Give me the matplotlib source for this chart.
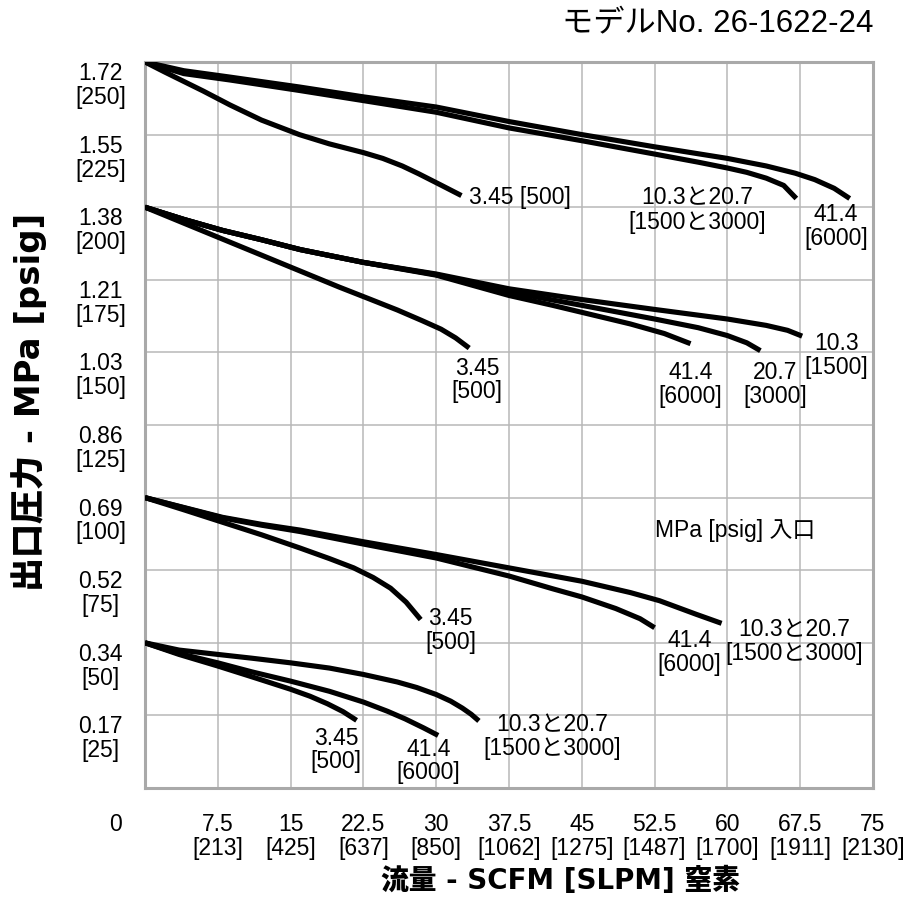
import numpy as np
import matplotlib
matplotlib.use('Agg')
import matplotlib.pyplot as plt
from matplotlib.transforms import ScaledTranslation

plt.rcParams['font.family'] = ['Liberation Sans', 'Noto Sans CJK JP', 'DejaVu Sans']

# ---- data: flow [SCFM] vs outlet pressure [psig] ----
# outlet set 250 psig
f250_345 = [0, 2, 4, 6, 8.76, 12, 15.9, 19, 22.5, 24.5, 26.5, 28.2, 30.5, 32.6]
p250_345 = [250, 246.6, 243.3, 240, 235.2, 230, 225, 221.8, 218.8, 216.8, 214.2, 211.5, 207.6, 204]
f250_103 = [0, 4, 8.76, 15.9, 22.5, 30, 37.5, 45, 52.5, 57, 60, 62, 64, 65.8, 67.1]
p250_103 = [250, 246, 243.8, 240.2, 236.7, 232.7, 227.3, 222.9, 218.3, 215.5, 213.5, 212, 210, 207.5, 203]
f250_414 = [0, 4, 8.76, 15.9, 22.5, 30, 37.5, 45, 52.5, 60, 64, 67, 69, 71, 72.6]
p250_414 = [250, 247, 244.8, 241.4, 238, 234.5, 229.5, 225, 220.8, 216.8, 214.2, 211.7, 209.5, 206.5, 203]

# outlet set 200 psig
f200_345 = [0, 4, 8, 12, 16, 20, 23.2, 26, 28.5, 30.5, 32, 33.4]
p200_345 = [200, 194.5, 189, 183.5, 178, 172.5, 168.3, 164.6, 161, 158, 155, 151.5]
f200_414 = [0, 4, 8, 12, 16, 22.5, 30, 37.5, 42, 46, 50, 53.5, 56.2]
p200_414 = [200, 195.8, 192, 188.8, 185.4, 181, 176.6, 169.6, 166.2, 163, 159.8, 156.5, 153]
f200_207 = [0, 4, 8, 12, 16, 22.5, 30, 37.5, 45, 52.5, 57, 60, 62, 63.4]
p200_207 = [200, 195.8, 192, 188.8, 185.4, 181, 176.8, 170.8, 166.2, 161.5, 158.5, 155.8, 153.3, 150.6]
f200_103 = [0, 4, 8, 12, 16, 22.5, 30, 37.5, 45, 52.5, 60, 64, 66.2, 67.7]
p200_103 = [200, 195.8, 192, 188.8, 185.4, 181, 177, 171.9, 168.2, 164.8, 161.5, 159.3, 157.6, 155.6]

# outlet set 100 psig
f100_345 = [0, 4, 8, 12, 16, 19, 21.5, 23.5, 25.3, 26.9, 28.4]
p100_345 = [100, 95.8, 91.5, 87.2, 82.6, 79, 75.8, 72.5, 68.8, 64, 58]
f100_414 = [0, 4, 8, 12, 16, 22.5, 30, 37.5, 42, 45, 48.5, 51, 52.5]
p100_414 = [100, 96.5, 93, 90.5, 88.3, 84, 79.2, 73, 68.6, 65.8, 61.8, 58.3, 55.2]
f100_103 = [0, 4, 8, 12, 16, 22.5, 30, 37.5, 45, 50, 53, 56.8, 59.4]
p100_103 = [100, 96.6, 93.2, 90.8, 88.8, 84.8, 80.4, 75.8, 71.2, 67.3, 64.5, 59.8, 56.7]

# outlet set 50 psig
f50_345 = [0, 3.5, 7.5, 11, 15, 17, 18.8, 20.4, 21.8]
p50_345 = [50, 46, 42, 38.3, 34, 31.6, 29, 26.3, 23.3]
f50_414 = [0, 3.5, 7.5, 11, 15, 19, 22.5, 25, 26.8, 28.7, 30.2]
p50_414 = [50, 46.3, 43.1, 40, 36.8, 33.3, 29.6, 26.4, 23.8, 20.7, 18.1]
f50_103 = [0, 3.5, 7.5, 11, 15, 19, 22.5, 26, 28, 30, 31.5, 32.7, 33.6, 34.4]
p50_103 = [50, 47.5, 46, 44.7, 43.1, 41.3, 39.1, 36.5, 34.6, 32.2, 29.9, 27.5, 25.4, 23.1]

curves = [
    (f250_345, p250_345), (f250_103, p250_103), (f250_414, p250_414),
    (f200_345, p200_345), (f200_414, p200_414), (f200_207, p200_207), (f200_103, p200_103),
    (f100_345, p100_345), (f100_414, p100_414), (f100_103, p100_103),
    (f50_345, p50_345), (f50_414, p50_414), (f50_103, p50_103),
]

# axis ticks
x_ticks = [0, 7.5, 15, 22.5, 30, 37.5, 45, 52.5, 60, 67.5, 75]
x_slpm = ['', '213', '425', '637', '850', '1062', '1275', '1487', '1700', '1911', '2130']
y_psig = [0, 25, 50, 75, 100, 125, 150, 175, 200, 225, 250]
y_mpa = ['', '0.17', '0.34', '0.52', '0.69', '0.86', '1.03', '1.21', '1.38', '1.55', '1.72']

# curve labels (text, flow, psig, alignment)
labels = [
    ('3.45 [500]', 33.4, 203.2, 'left'),
    ('10.3と20.7\n[1500と3000]', 56.9, 199.0, 'center'),
    ('41.4\n[6000]', 71.2, 193.2, 'center'),
    ('3.45\n[500]', 34.2, 140.5, 'center'),
    ('41.4\n[6000]', 56.2, 139.1, 'center'),
    ('20.7\n[3000]', 64.9, 139.1, 'center'),
    ('10.3\n[1500]', 71.2, 148.8, 'center'),
    ('MPa [psig] 入口', 60.8, 88.5, 'center'),
    ('3.45\n[500]', 31.5, 54.1, 'center'),
    ('41.4\n[6000]', 56.1, 46.8, 'center'),
    ('10.3と20.7\n[1500と3000]', 66.9, 50.3, 'center'),
    ('3.45\n[500]', 19.7, 13.1, 'center'),
    ('41.4\n[6000]', 29.2, 9.3, 'center'),
    ('10.3と20.7\n[1500と3000]', 41.9, 17.6, 'center'),
]

W, H = 923, 924
fig = plt.figure(figsize=(W / 100, H / 100), dpi=100)
ax = fig.add_axes([145 / W, 1 - 788 / H, 728 / W, 726 / H])
ax.set_xlim(0, 75)
ax.set_ylim(0, 250)

for f, p in curves:
    ax.plot(f, p, color='black', lw=3.7, solid_capstyle='butt', solid_joinstyle='round', zorder=3)

for txt, xf, yp, ha in labels:
    ax.text(xf, yp, txt, ha=ha, va='center', fontsize=16.5, linespacing=1.05,
            multialignment='center', zorder=4)

ax.set_xticks(x_ticks)
ax.set_xticklabels(['' if s == '' else f'{v:g}\n[{s}]' for v, s in zip(x_ticks, x_slpm)],
                   fontsize=16.5, linespacing=1.05)
ax.set_yticks(y_psig)
ax.set_yticklabels(['' if m == '' else f'{m}\n[{v}]' for v, m in zip(y_psig, y_mpa)],
                   fontsize=16.5, linespacing=1.05)
lift = ScaledTranslation(0, 4 / 100, fig.dpi_scale_trans)
for lab in ax.get_yticklabels():
    lab.set_ha('center')
    lab.set_va('top')
    lab.set_multialignment('center')
    lab.set_transform(lab.get_transform() + lift)
ax.tick_params(axis='y', length=0, pad=32)
ax.tick_params(axis='x', length=0, pad=18)

ax.annotate('0', xy=(0, 0), xycoords='axes fraction', xytext=(-21, -18),
            textcoords='offset points', ha='center', va='top', fontsize=16.5)

ax.grid(color='#b8b8b8', lw=1.1, zorder=0)
ax.set_axisbelow(True)
for s in ax.spines.values():
    s.set_color('#a9a9a9')
    s.set_linewidth(2.2)

bold_fam = ['DejaVu Sans', 'Noto Sans CJK JP']
fig.text(873 / W, 1 - 8 / H, 'モデルNo. 26-1622-24', ha='right', va='top', fontsize=22.5)
fig.text(560 / W, 1 - 881 / H, '流量 - SCFM [SLPM] 窒素', ha='center', va='center',
         fontsize=20, fontweight='black', family=bold_fam)
fig.text(29 / W, 1 - 402 / H, '出口圧力 - MPa [psig]', ha='center', va='center',
         rotation=90, fontsize=24.5, fontweight='black', family=bold_fam)

fig.savefig('out.png', dpi=100)
